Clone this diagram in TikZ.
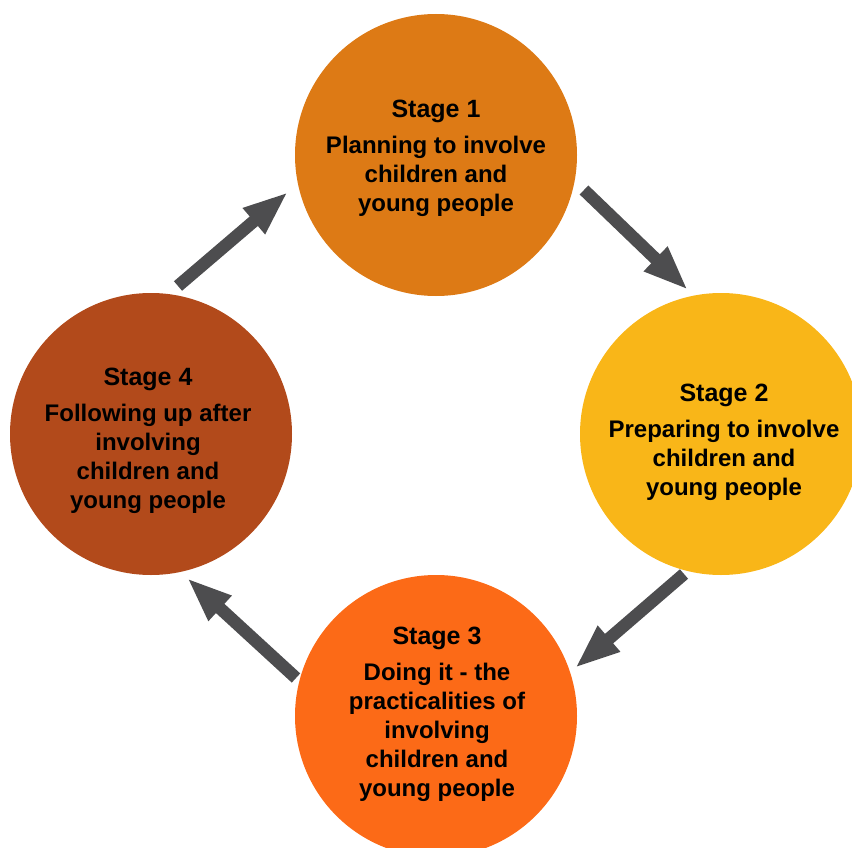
\documentclass[tikz,border=0pt]{standalone}
\usepackage{fontspec}
\setmainfont{Liberation Sans}
\usetikzlibrary{arrows.meta}

\definecolor{stageone}{HTML}{DD7A15}
\definecolor{stagetwo}{HTML}{F9B618}
\definecolor{stagethree}{HTML}{FC6A17}
\definecolor{stagefour}{HTML}{B24A1B}
\definecolor{arrowgrey}{HTML}{4D4D4F}

\tikzset{
  stagedisc/.style={circle, draw=none, inner sep=0pt, minimum size=282pt},
  stagetext/.style={align=center, inner sep=0pt, font=\bfseries\fontsize{24}{29}\selectfont},
  flowarrow/.style={draw=arrowgrey, line width=12.5pt, line cap=butt,
    -{Triangle[width=31pt, length=45pt, fill=arrowgrey]}}
}
\newcommand{\stagehead}[1]{{\fontsize{25}{30}\selectfont #1}\\[7pt]}

\begin{document}
\begin{tikzpicture}[x=1pt, y=-1pt]
  \useasboundingbox (0,0) rectangle (852,848);

  % the four stage discs
  \node[stagedisc, fill=stageone]   (s1) at (436,155) {};
  \node[stagedisc, fill=stagetwo]   (s2) at (721,434) {};
  \node[stagedisc, fill=stagethree] (s3) at (436,716) {};
  \node[stagedisc, fill=stagefour]  (s4) at (151,434) {};

  % captions
  \node[stagetext] (t1) at (436,158) {\stagehead{Stage 1}Planning to involve\\children and\\young people};
  \node[stagetext] (t2) at (724,442) {\stagehead{Stage 2}Preparing to involve\\children and\\young people};
  \node[stagetext] (t3) at (437,714) {\stagehead{Stage 3}Doing it - the\\practicalities of\\involving\\children and\\young people};
  \node[stagetext] (t4) at (148,441) {\stagehead{Stage 4}Following up after\\involving\\children and\\young people};

  % arrow end points between the discs
  \coordinate (a1s) at (584,190);
  \coordinate (a1e) at (688,290);
  \coordinate (a2s) at (684,574);
  \coordinate (a2e) at (575,668);
  \coordinate (a3s) at (296,678);
  \coordinate (a3e) at (187,578);
  \coordinate (a4s) at (178,286);
  \coordinate (a4e) at (288,192);

  % cycle arrows
  \draw[flowarrow] (a1s) -- (a1e);
  \draw[flowarrow] (a2s) -- (a2e);
  \draw[flowarrow] (a3s) -- (a3e);
  \draw[flowarrow] (a4s) -- (a4e);
\end{tikzpicture}
\end{document}
